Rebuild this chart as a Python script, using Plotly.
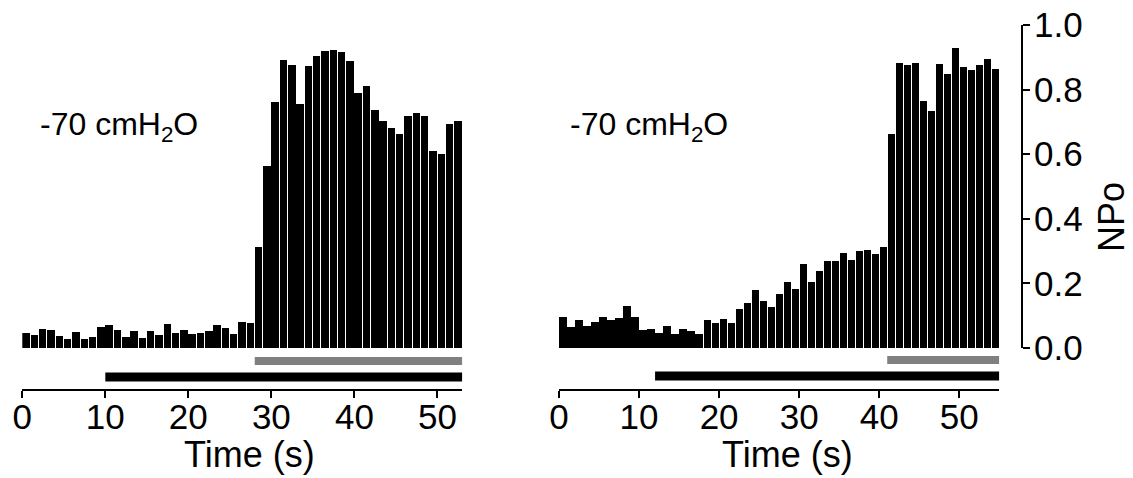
import plotly.graph_objects as go

# ---------------- data ----------------
left_npo = [0.047, 0.040, 0.059, 0.055, 0.038, 0.028, 0.049, 0.028, 0.035, 0.066,
            0.072, 0.055, 0.035, 0.054, 0.032, 0.052, 0.040, 0.073, 0.047, 0.057,
            0.042, 0.045, 0.053, 0.072, 0.062, 0.043, 0.081, 0.076, 0.314, 0.563,
            0.763, 0.893, 0.877, 0.755, 0.872, 0.903, 0.921, 0.924, 0.915, 0.889,
            0.789, 0.811, 0.736, 0.703, 0.681, 0.663, 0.718, 0.729, 0.718, 0.611,
            0.601, 0.693, 0.703]
right_npo = [0.096, 0.066, 0.087, 0.069, 0.080, 0.096, 0.088, 0.094, 0.129, 0.097,
             0.055, 0.060, 0.046, 0.067, 0.044, 0.058, 0.052, 0.043, 0.088, 0.076,
             0.091, 0.076, 0.122, 0.140, 0.179, 0.147, 0.126, 0.168, 0.203, 0.184,
             0.259, 0.204, 0.239, 0.270, 0.270, 0.295, 0.273, 0.301, 0.303, 0.291,
             0.314, 0.662, 0.883, 0.877, 0.881, 0.764, 0.734, 0.880, 0.849, 0.929,
             0.871, 0.860, 0.877, 0.894, 0.863]
left_time = [i + 0.5 for i in range(len(left_npo))]
right_time = [i + 0.5 for i in range(len(right_npo))]

left_xmax = 53
right_xmax = 55
# stimulus bars: [start, end] in seconds
left_gray = [28, 53]
left_black = [10, 53]
right_gray = [41, 55]
right_black = [12, 55]

x_ticks = [0, 10, 20, 30, 40, 50]
y_ticks = [0.0, 0.2, 0.4, 0.6, 0.8, 1.0]
label = "-70 cmH<sub>2</sub>O"
x_title = "Time (s)"
y_title = "NPo"

# ---------------- layout helpers ----------------
W, H = 1133, 478
OFF = 8  # page body margin
FONT = "Liberation Sans, Arial, sans-serif"


def px_x(p):
    return (p - OFF) / W


def px_y(p):
    return (H - (p - OFF)) / H


fig = go.Figure()

fig.add_trace(go.Bar(x=left_time, y=left_npo, width=0.9, marker=dict(color="black", line=dict(width=0)),
                     xaxis="x", yaxis="y", showlegend=False))
fig.add_trace(go.Bar(x=right_time, y=right_npo, width=0.9, marker=dict(color="black", line=dict(width=0)),
                     xaxis="x2", yaxis="y2", showlegend=False))

# stimulus bars (gray = level 1, black = level 0 on hidden axes)
for xs, ax, ay, col, lvl, lw in [
    (left_gray, "x", "y3", "#808080", 1, 8),
    (left_black, "x", "y3", "black", 0, 9),
    (right_gray, "x2", "y4", "#808080", 1, 8),
    (right_black, "x2", "y4", "black", 0, 9),
]:
    fig.add_trace(go.Scatter(x=xs, y=[lvl, lvl], mode="lines", line=dict(color=col, width=lw),
                             xaxis=ax, yaxis=ay, showlegend=False, hoverinfo="skip"))

xcommon = dict(
    anchor="free", position=px_y(390), showline=True, linecolor="black", linewidth=2,
    ticks="outside", ticklen=7, tickwidth=2, tickcolor="black", tickvals=x_ticks,
    tickfont=dict(family=FONT, size=35, color="black"), showgrid=False, zeroline=False,
    automargin=False, ticklabelstandoff=-11, ticklabeloverflow="allow",
)

fig.update_layout(
    template="none",
    width=W, height=H,
    margin=dict(l=0, r=0, t=0, b=0, autoexpand=False),
    paper_bgcolor="white", plot_bgcolor="white",
    bargap=0,
    xaxis=dict(domain=[px_x(22.3), px_x(462.3)], range=[0, left_xmax], **xcommon),
    xaxis2=dict(domain=[px_x(559), px_x(999.3)], range=[0, right_xmax], **xcommon),
    yaxis=dict(domain=[px_y(348), px_y(25)], range=[0, 1], visible=False, anchor="x", automargin=False),
    yaxis2=dict(domain=[px_y(348), px_y(25)], range=[0, 1], anchor="free", position=px_x(1022),
                side="right", showline=True, linecolor="black", linewidth=2, automargin=False,
                ticks="outside", ticklen=7, tickwidth=2, tickcolor="black",
                tickvals=y_ticks, tickformat=".1f", showgrid=False, zeroline=False,
                ticklabelstandoff=-3, ticklabeloverflow="allow",
                tickfont=dict(family=FONT, size=35, color="black")),
    yaxis3=dict(domain=[px_y(385), px_y(353)], range=[-0.5, 1.5], visible=False, anchor="x", automargin=False),
    yaxis4=dict(domain=[px_y(384), px_y(352)], range=[-0.5, 1.5], visible=False, anchor="x2", automargin=False),
    annotations=[
        dict(text=label, xref="paper", yref="paper", x=px_x(38), y=px_y(126), xanchor="left",
             yanchor="middle", showarrow=False, font=dict(family=FONT, size=32, color="black")),
        dict(text=label, xref="paper", yref="paper", x=px_x(568), y=px_y(126), xanchor="left",
             yanchor="middle", showarrow=False, font=dict(family=FONT, size=32, color="black")),
        dict(text=x_title, xref="paper", yref="paper", x=px_x(249), y=px_y(454), xanchor="center",
             yanchor="middle", showarrow=False, font=dict(family=FONT, size=36, color="black")),
        dict(text=x_title, xref="paper", yref="paper", x=px_x(787), y=px_y(454), xanchor="center",
             yanchor="middle", showarrow=False, font=dict(family=FONT, size=36, color="black")),
        dict(text=y_title, xref="paper", yref="paper", x=px_x(1111), y=px_y(217), xanchor="center",
             yanchor="middle", textangle=-90, showarrow=False,
             font=dict(family=FONT, size=36, color="black")),
    ],
)

fig.write_html("out.html")
